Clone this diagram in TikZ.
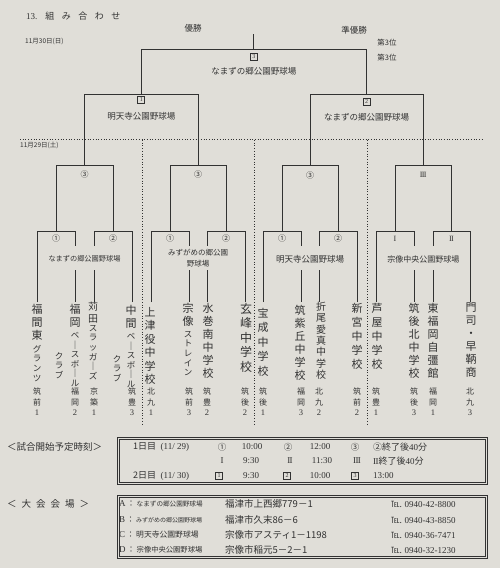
\documentclass[tikz,border=0pt]{standalone}
\usepackage{fontspec}
\setmainfont{Liberation Serif}
\newfontfamily\cjk{Noto Sans CJK JP}
\usetikzlibrary{calc}
\definecolor{paper}{RGB}{224,222,216}
\definecolor{ink}{RGB}{50,50,50}
\tikzset{
 br/.style={draw=ink, line width=0.9pt},
 sepline/.style={draw=ink, dotted, line width=0.7pt},
 lbl/.style={inner sep=0pt, text=ink, font=\cjk\fontsize{8.5}{10}\selectfont},
 small/.style={inner sep=0pt, text=ink, font=\cjk\fontsize{7.2}{10.5}\selectfont, align=center},
 sq/.style={draw=ink, line width=0.6pt, minimum size=7pt, inner sep=0pt, font=\fontsize{6}{6}\selectfont, text=ink},
 team/.style={anchor=north, inner sep=0pt, align=center, text=ink, font=\cjk\fontsize{11}{13}\selectfont},
 kana/.style={anchor=north, inner sep=0pt, align=center, text=ink, font=\cjk\fontsize{8.5}{9.6}\selectfont},
 reg/.style={anchor=north, inner sep=0pt, align=center, text=ink, font=\cjk\fontsize{8}{11}\selectfont},
 row/.style={inner sep=0pt, text=ink, font=\fontsize{9}{10}\selectfont},
 frame/.style={draw=ink, line width=0.8pt},
}
\begin{document}
\begin{tikzpicture}[x=1pt,y=-1pt]
\fill[paper] (0,0) rectangle (500,568);
\useasboundingbox (0,0) rectangle (500,568);

% ---- header texts
\node[lbl, anchor=west, font=\cjk\fontsize{9}{10}\selectfont] (title) at (26,16) {{\rmfamily 13.}\hspace{8pt}組\hspace{7.5pt}み\hspace{7.5pt}合\hspace{7.5pt}わ\hspace{7.5pt}せ};
\node[lbl, anchor=west, font=\cjk\fontsize{6.5}{8}\selectfont] (d30) at (25,41) {11月30日(日)};
\node[lbl] (win) at (193,28) {優勝};
\node[lbl] (run) at (354,30) {準優勝};
\node[lbl, font=\cjk\fontsize{7.5}{9}\selectfont] (th1) at (387,43) {第3位};
\node[lbl, font=\cjk\fontsize{7.5}{9}\selectfont] (th2) at (387,58) {第3位};
\node[lbl, anchor=west, font=\cjk\fontsize{6.5}{8}\selectfont] (d29) at (20,145) {11月29日(土)};

% ---- dotted separators
\coordinate (hl) at (20,139); \coordinate (hr) at (483,139);
\draw[sepline] (hl) -- (hr);
\foreach \k/\x in {1/142,2/254,3/367} {
  \coordinate (vs\k) at (\x,140); \coordinate (ve\k) at (\x,425);
  \draw[sepline] (vs\k) -- (ve\k);
}

% ---- team leg ends
\foreach \n/\x in {1/37,2/75,3/94,4/132,5/151,6/189,7/207,8/245,9/263,10/301,11/319,12/357,13/376,14/414,15/433,16/470} {
  \coordinate (t\n) at (\x,302);
}
% first round brackets (outer leg / inner leg with gap for the venue)
\foreach \o/\i in {1/2,4/3,5/6,8/7,9/10,12/11,13/14,16/15} {
  \draw[br] (t\o) -- (t\o |- 0,231) -- (t\i |- 0,231) -- (t\i |- 0,246);
  \draw[br] (t\i |- 0,270) -- (t\i);
}
% pair centres
\foreach \p/\a/\b in {1/1/2,2/3/4,3/5/6,4/7/8,5/9/10,6/11/12,7/13/14,8/15/16} {
  \coordinate (p\p) at ($(t\a)!0.5!(t\b)$);
}
% group centres
\foreach \q/\a/\b in {1/1/2,2/3/4,3/5/6,4/7/8} {
  \coordinate (q\q) at ($(p\a)!0.5!(p\b)$);
  \draw[br] (p\a |- 0,231) -- (p\a |- 0,165) -- (p\b |- 0,165) -- (p\b |- 0,231);
}
% semi finals
\foreach \s/\a/\b in {1/1/2,2/3/4} {
  \coordinate (s\s) at ($(q\a)!0.5!(q\b)$);
  \draw[br] (q\a |- 0,165) -- (q\a |- 0,94) -- (q\b |- 0,94) -- (q\b |- 0,165);
}
% final
\coordinate (f) at ($(s1)!0.5!(s2)$);
\draw[br] (s1 |- 0,94) -- (s1 |- 0,49) -- (s2 |- 0,49) -- (s2 |- 0,94);
\draw[br] (f |- 0,49) -- (f |- 0,34);

% ---- match labels
\node[sq] (b3) at (f |- 0,57) {3};
\node[lbl] (v3) at (f |- 0,71) {なまずの郷公園野球場};
\node[sq] (b1) at (s1 |- 0,100) {1};
\node[lbl] (v1) at (s1 |- 0,116) {明天寺公園野球場};
\node[sq] (b2) at (s2 |- 0,102) {2};
\node[lbl] (v2) at (s2 |- 0,117) {なまずの郷公園野球場};

\node[lbl, font=\cjk\fontsize{8}{9}\selectfont] (qa) at (q1 |- 0,174) {③};
\node[lbl, font=\cjk\fontsize{8}{9}\selectfont] (qb) at (q2 |- 0,174) {③};
\node[lbl, font=\cjk\fontsize{8}{9}\selectfont] (qc) at (q3 |- 0,175) {③};
\node[lbl, font=\fontsize{8}{9}\selectfont] (qd) at (q4 |- 0,175) {I\kern-0.6ptI\kern-0.6ptI};

\foreach \p/\t in {1/①,2/②,3/①,4/②,5/①,6/②} {
  \node[lbl, font=\cjk\fontsize{8}{9}\selectfont] (m\p) at (p\p |- 0,238.5) {\t};
}
\node[lbl, font=\fontsize{8}{9}\selectfont] (m7) at (p7 |- 0,239) {I};
\node[lbl, font=\fontsize{8}{9}\selectfont] (m8) at (p8 |- 0,239) {I\kern-0.6ptI};

\node[small] (va) at ($(q1 |- 0,259)$) {なまずの郷公園野球場};
\node[small, font=\cjk\fontsize{7.5}{10.5}\selectfont] (vb) at ($(q2 |- 0,258)$) {みずがめの郷公園\\野球場};
\node[small, font=\cjk\fontsize{8.5}{10}\selectfont] (vc) at ($(q3 |- 0,259)$) {明天寺公園野球場};
\node[small, font=\cjk\fontsize{8}{10}\selectfont] (vd) at ($(q4 |- 0,259)$) {宗像中央公園野球場};

% ---- teams (vertical)
\node[team] (n1) at (37,304) {福\\間\\東};
\node[kana] (n1b) at (37,345) {グ\\ラ\\ン\\ツ};
\node[team] (n2) at (75,304) {福\\岡};
\node[kana] (n2b) at (75,332) {ベ\\｜\\ス\\ボ\\｜\\ル};
\node[kana] (n2c) at (59,352) {ク\\ラ\\ブ};
\node[team, font=\cjk\fontsize{10}{11.5}\selectfont] (n3) at (93,302) {苅\\田};
\node[kana] (n3b) at (93,325) {ス\\ラ\\ッ\\ガ\\｜\\ズ};
\node[team] (n4) at (131,305) {中\\間};
\node[kana] (n4b) at (131,333) {ベ\\｜\\ス\\ボ\\｜\\ル};
\node[kana] (n4c) at (117,355) {ク\\ラ\\ブ};
\node[team, font=\cjk\fontsize{11}{13.5}\selectfont] (n5) at (150,307) {上\\津\\役\\中\\学\\校};
\node[team] (n6) at (188,303) {宗\\像};
\node[kana] (n6b) at (188,331) {ス\\ト\\レ\\イ\\ン};
\node[team] (n7) at (208,303) {水\\巻\\南\\中\\学\\校};
\node[team, font=\cjk\fontsize{12}{14.5}\selectfont] (n8) at (246,303) {玄\\峰\\中\\学\\校};
\node[team, font=\cjk\fontsize{11}{14.5}\selectfont] (n9) at (263,308) {宝\\成\\中\\学\\校};
\node[team] (n10) at (300,305) {筑\\紫\\丘\\中\\学\\校};
\node[team, font=\cjk\fontsize{10}{11.3}\selectfont] (n11) at (321,302) {折\\尾\\愛\\真\\中\\学\\校};
\node[team, font=\cjk\fontsize{11}{14}\selectfont] (n12) at (357,303) {新\\宮\\中\\学\\校};
\node[team, font=\cjk\fontsize{11}{14}\selectfont] (n13) at (377,303) {芦\\屋\\中\\学\\校};
\node[team] (n14) at (414,303) {筑\\後\\北\\中\\学\\校};
\node[team] (n15) at (433,303) {東\\福\\岡\\自\\彊\\館};
\node[team] (n16) at (471,303) {門\\司\\・\\早\\鞆\\商};

% ---- regions (vertical)
\foreach \n/\ra/\rb/\k in {1/筑/前/1,2/福/岡/2,3/京/築/1,4/筑/豊/3,5/北/九/1,6/筑/前/3,7/筑/豊/2,8/筑/後/2,9/筑/後/1,10/福/岡/3,11/北/九/2,12/筑/前/2,13/筑/豊/1,14/筑/後/3,15/福/岡/1,16/北/九/3} {
  \node[reg] (r\n) at (t\n |- 0,388) {\ra\\\rb};
  \node[reg, font=\fontsize{8.5}{9}\selectfont] (k\n) at (t\n |- 0,410) {\k};
}

% ---- schedule
\node[lbl, anchor=west, font=\cjk\fontsize{9.5}{10}\selectfont] (sch) at (7,447) {＜試合開始予定時刻＞};
\coordinate (sa) at (117,437); \coordinate (sb) at (487,484);
\draw[frame] (sa) rectangle (sb);
\draw[frame, line width=0.5pt] ($(sa)+(2,2)$) rectangle ($(sb)+(-2,-2)$);
\node[row, anchor=west] (d1) at (133,447) {{\cjk 1日目}\ \ (11/ 29)};
\node[row, font=\cjk\fontsize{8.5}{9}\selectfont] (c1) at (222,447) {①};
\node[row] (c1t) at (252,447) {10:00};
\node[row, font=\cjk\fontsize{8.5}{9}\selectfont] (c2) at (288,447) {②};
\node[row] (c2t) at (320,447) {12:00};
\node[row, font=\cjk\fontsize{8.5}{9}\selectfont] (c3) at (355,447) {③};
\node[row, anchor=west] (c3t) at (373,447) {{\cjk ②終了後}40{\cjk 分}};
\node[row] (e1) at (222,461) {I};
\node[row] (e1t) at (251,461) {9:30};
\node[row] (e2) at (290,461) {I\kern-0.6ptI};
\node[row] (e2t) at (322,461) {11:30};
\node[row] (e3) at (357,461) {I\kern-0.6ptI\kern-0.6ptI};
\node[row, anchor=west] (e3t) at (373,461) {I\kern-0.6ptI{\cjk 終了後}40{\cjk 分}};
\node[row, anchor=west] (d2) at (133,476) {{\cjk 2日目}\ \ (11/ 30)};
\node[sq] (f1) at (219,476) {1};
\node[row] (f1t) at (251,476) {9:30};
\node[sq] (f2) at (287,476) {2};
\node[row] (f2t) at (320,476) {10:00};
\node[sq] (f3) at (355,476) {3};
\node[row, anchor=west] (f3t) at (373,476) {13:00};

% ---- venues
\node[lbl, anchor=west, font=\cjk\fontsize{9.5}{10}\selectfont] (ven) at (7,504) {＜\hspace{5pt}大\hspace{5pt}会\hspace{5pt}会\hspace{5pt}場\hspace{5pt}＞};
\coordinate (ua) at (117,495); \coordinate (ub) at (487,558);
\draw[frame] (ua) rectangle (ub);
\draw[frame, line width=0.5pt] ($(ua)+(2,2)$) rectangle ($(ub)+(-2,-2)$);
\foreach \y/\L/\V/\s/\A/\T in {
  504/A/なまずの郷公園野球場/6.6/福津市上西郷779－1/0940-42-8800,
  520/B/みずがめの郷公園野球場/6.0/福津市久末86－6/0940-43-8850,
  535/C/明天寺公園野球場/7.8/宗像市アスティ1－1198/0940-36-7471,
  550/D/宗像中央公園野球場/7.3/宗像市稲元5－2－1/0940-32-1230} {
  \node[row, anchor=west] (vl\L) at (119,\y) {\L\,{\cjk\fontsize{8}{9}\selectfont ：}\,{\cjk\fontsize{\s}{9}\selectfont\V}};
  \node[row, anchor=west, font=\cjk\fontsize{9.5}{10}\selectfont] (va\L) at (225,\y) {\A};
  \node[row, anchor=west, font=\cjk\fontsize{8.5}{10}\selectfont] (vt\L) at (391,\y) {℡. \rmfamily\fontsize{9}{10}\selectfont\T};
}
\end{tikzpicture}
\end{document}
